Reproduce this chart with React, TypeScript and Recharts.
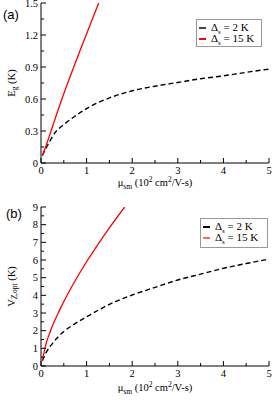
import React from 'react';
import { LineChart, Line, XAxis, YAxis } from 'recharts';

// Panel (a): E_g vs mu_sm
const MU_A_BLACK = [0.03, 0.1, 0.2, 0.3, 0.5, 0.75, 1, 1.5, 2, 2.5, 3, 3.5, 4, 4.5, 5];
const EG_BLACK = [0.07, 0.13, 0.21, 0.28, 0.36, 0.44, 0.51, 0.61, 0.677, 0.72, 0.755, 0.79, 0.817, 0.85, 0.88];
const MU_A_RED = [0.03, 0.1, 0.22, 0.45, 0.7, 0.99, 1.265];
const EG_RED = [0.07, 0.15, 0.3, 0.59, 0.88, 1.2, 1.5];

// Panel (b): V_Z,opt vs mu_sm
const MU_B_BLACK = [0.03, 0.1, 0.25, 0.5, 0.75, 1, 1.5, 2, 2.5, 3, 3.5, 4, 4.5, 5];
const VZ_BLACK = [0.3, 0.7, 1.27, 1.95, 2.4, 2.78, 3.49, 4.02, 4.45, 4.87, 5.2, 5.53, 5.8, 6.05];
const MU_B_RED = [0.03, 0.1, 0.21, 0.4, 0.59, 0.8, 1.0, 1.25, 1.5, 1.835];
const VZ_RED = [0.3, 1.15, 2.0, 3.12, 4.09, 5.05, 5.9, 6.89, 7.82, 9.0];

// Ticks
const X_MAJOR = [0, 1, 2, 3, 4, 5];
const X_MINOR = [0.5, 1.5, 2.5, 3.5, 4.5];
const YA_MAJOR = [0, 0.3, 0.6, 0.9, 1.2, 1.5];
const YA_MINOR = [0.15, 0.45, 0.75, 1.05, 1.35];
const YB_MAJOR = [0, 1, 2, 3, 4, 5, 6, 7, 8, 9];
const YB_MINOR = [0.5, 1.5, 2.5, 3.5, 4.5, 5.5, 6.5, 7.5, 8.5];

const LEGEND_LABELS = ['2 K', '15 K'];
const BLACK = '#000000';
const RED = '#ff0000';
const SERIF = '"Liberation Serif", "DejaVu Serif", serif';

const toPts = (xs: number[], ys: number[]) => xs.map((x, i) => ({ x, y: ys[i] }));

const isIn = (arr: number[], v: number) => arr.some((m) => Math.abs(m - v) < 1e-9);

const makeTick = (side: 'left' | 'right' | 'bottom' | 'top', majors: number[], showLabel: boolean, fmt?: (v: number) => string) =>
  (props: any) => {
    const { x, y, payload } = props;
    const v = payload.value as number;
    const major = isIn(majors, v);
    const len = major ? 5 : 3;
    let line;
    let label = null;
    if (side === 'left') {
      line = <line x1={x} y1={y} x2={x + len} y2={y} stroke="#000" strokeWidth={1} />;
      if (showLabel && major)
        label = (
          <text x={x - 3} y={y + 3.5} textAnchor="end" fontSize={10.5} fontFamily={SERIF} fill="#000">
            {fmt ? fmt(v) : String(v)}
          </text>
        );
    } else if (side === 'right') {
      line = <line x1={x - len} y1={y} x2={x} y2={y} stroke="#000" strokeWidth={1} />;
    } else if (side === 'bottom') {
      line = <line x1={x} y1={y} x2={x} y2={y - len} stroke="#000" strokeWidth={1} />;
      if (showLabel && major)
        label = (
          <text x={x} y={y + 10.5} textAnchor="middle" fontSize={10.5} fontFamily={SERIF} fill="#000">
            {fmt ? fmt(v) : String(v)}
          </text>
        );
    } else {
      line = <line x1={x} y1={y} x2={x} y2={y + len} stroke="#000" strokeWidth={1} />;
    }
    return (
      <g>
        {line}
        {label}
      </g>
    );
  };

const XLabel = (props: any) => {
  const vb = props.viewBox || {};
  const cx = vb.x + vb.width / 2;
  return (
    <text x={cx} y={vb.y + props.dyBase} textAnchor="middle" fontSize={10.5} fontFamily={SERIF} fill="#000">
      <tspan>μ</tspan>
      <tspan dy={2.5} fontSize={7.5}>sm</tspan>
      <tspan dy={-2.5}> (10</tspan>
      <tspan dy={-4} fontSize={7.5}>2</tspan>
      <tspan dy={4}> cm</tspan>
      <tspan dy={-4} fontSize={7.5}>2</tspan>
      <tspan dy={4}>/V-s)</tspan>
    </text>
  );
};

const YLabelA = (props: any) => {
  const vb = props.viewBox || {};
  const cx = 11;
  const cy = vb.y + vb.height / 2;
  return (
    <text x={cx} y={cy} transform={`rotate(-90 ${cx} ${cy})`} textAnchor="middle" dominantBaseline="central" fontSize={10.5} fontFamily={SERIF} fill="#000">
      <tspan>E</tspan>
      <tspan dy={2.5} fontSize={7.5}>g</tspan>
      <tspan dy={-2.5}> (K)</tspan>
    </text>
  );
};

const YLabelB = (props: any) => {
  const vb = props.viewBox || {};
  const cx = 11;
  const cy = vb.y + vb.height / 2;
  return (
    <text x={cx} y={cy} transform={`rotate(-90 ${cx} ${cy})`} textAnchor="middle" dominantBaseline="central" fontSize={10.5} fontFamily={SERIF} fill="#000">
      <tspan>V</tspan>
      <tspan dy={2.5} fontSize={7.5} fontStyle="italic">Z</tspan>
      <tspan fontSize={7.5}>,opt</tspan>
      <tspan dy={-2.5}> (K)</tspan>
    </text>
  );
};

const Legend = ({ left, top, width, height, blackColor, redColor }: any) => (
  <div
    style={{
      position: 'absolute',
      left,
      top,
      width,
      height,
      border: '1px solid #999',
      background: '#fff',
      boxSizing: 'border-box',
      fontFamily: SERIF,
      fontSize: 11,
      lineHeight: '11px',
      padding: '3px 0 0 2px',
      color: '#000',
    }}
  >
    {[blackColor, redColor].map((c, i) => (
      <div key={i} style={{ display: 'flex', alignItems: 'center', height: 11, whiteSpace: 'nowrap' }}>
        <span style={{ display: 'inline-block', width: 7, height: 2, background: c, marginRight: 5, marginTop: -2 }} />
        <span>
          Δ<sub style={{ fontSize: 7, verticalAlign: 'baseline', position: 'relative', top: 3 }}>s</sub> = {LEGEND_LABELS[i]}
        </span>
      </div>
    ))}
  </div>
);

const Panel = ({
  letter,
  top,
  xAxisHeight,
  yDomain,
  yMajor,
  yMinor,
  yFmt,
  black,
  red,
  YLabel,
  xLabelDy,
  legend,
}: any) => (
  <div style={{ position: 'absolute', left: 0, top: 0, width: 272, height: 200 }}>
    <LineChart width={272} height={200} margin={{ top, right: 3, left: 0, bottom: 0 }}>
      <XAxis
        xAxisId="b"
        type="number"
        dataKey="x"
        domain={[0, 5]}
        ticks={[...X_MAJOR, ...X_MINOR].sort((a, b) => a - b)}
        interval={0}
        height={xAxisHeight}
        tickSize={0}
        tickMargin={0}
        tickLine={false}
        axisLine={{ stroke: '#000' }}
        tick={makeTick('bottom', X_MAJOR, true)}
        allowDataOverflow
        label={<XLabel dyBase={xLabelDy} />}
      />
      <XAxis
        xAxisId="t"
        orientation="top"
        type="number"
        dataKey="x"
        domain={[0, 5]}
        ticks={[...X_MAJOR, ...X_MINOR].sort((a, b) => a - b)}
        interval={0}
        height={0}
        tickSize={0}
        tickMargin={0}
        tickLine={false}
        axisLine={{ stroke: '#000' }}
        tick={makeTick('top', X_MAJOR, false)}
        allowDataOverflow
      />
      <YAxis
        yAxisId="l"
        type="number"
        domain={yDomain}
        ticks={[...yMajor, ...yMinor].sort((a: number, b: number) => a - b)}
        interval={0}
        width={41}
        tickSize={0}
        tickMargin={0}
        tickLine={false}
        axisLine={{ stroke: '#000' }}
        tick={makeTick('left', yMajor, true, yFmt)}
        allowDataOverflow
        label={<YLabel />}
      />
      <YAxis
        yAxisId="r"
        orientation="right"
        type="number"
        domain={yDomain}
        ticks={[...yMajor, ...yMinor].sort((a: number, b: number) => a - b)}
        interval={0}
        width={0}
        tickSize={0}
        tickMargin={0}
        tickLine={false}
        axisLine={{ stroke: '#000' }}
        tick={makeTick('right', yMajor, false)}
        allowDataOverflow
      />
      <Line
        xAxisId="b"
        yAxisId="l"
        data={black}
        dataKey="y"
        type="monotone"
        stroke={BLACK}
        strokeWidth={1.4}
        strokeDasharray="5 3"
        dot={false}
        isAnimationActive={false}
      />
      <Line
        xAxisId="b"
        yAxisId="l"
        data={red}
        dataKey="y"
        type="monotone"
        stroke={RED}
        strokeWidth={1.3}
        dot={false}
        isAnimationActive={false}
      />
    </LineChart>
    <div
      style={{
        position: 'absolute',
        left: letter.left,
        top: letter.top,
        fontFamily: '"Liberation Sans", Arial, sans-serif',
        fontSize: 13,
        lineHeight: '13px',
        color: '#000',
      }}
    >
      {letter.text}
    </div>
    <Legend {...legend} />
  </div>
);

export default function App() {
  return (
    <div style={{ position: 'absolute', left: 0, top: 0, width: 272, height: 400, background: '#fff' }}>
      <div style={{ position: 'absolute', left: 0, top: 0, width: 272, height: 200 }}>
        <Panel
          letter={{ text: '(a)', left: 3, top: 8 }}
          top={3}
          xAxisHeight={37}
          yDomain={[0, 1.5]}
          yMajor={YA_MAJOR}
          yMinor={YA_MINOR}
          yFmt={(v: number) => (v === 0 ? '0' : v.toFixed(1))}
          black={toPts(MU_A_BLACK, EG_BLACK)}
          red={toPts(MU_A_RED, EG_RED)}
          YLabel={YLabelA}
          xLabelDy={23}
          legend={{ left: 196, top: 19, width: 66, height: 28, blackColor: '#444', redColor: RED }}
        />
      </div>
      <div style={{ position: 'absolute', left: 0, top: 200, width: 272, height: 200 }}>
        <Panel
          letter={{ text: '(b)', left: 6, top: 7 }}
          top={7}
          xAxisHeight={34}
          yDomain={[0, 9]}
          yMajor={YB_MAJOR}
          yMinor={YB_MINOR}
          yFmt={(v: number) => String(v)}
          black={toPts(MU_B_BLACK, VZ_BLACK)}
          red={toPts(MU_B_RED, VZ_RED)}
          YLabel={YLabelB}
          xLabelDy={25}
          legend={{ left: 200, top: 18, width: 68, height: 30, blackColor: BLACK, redColor: '#ff6666' }}
        />
      </div>
    </div>
  );
}
